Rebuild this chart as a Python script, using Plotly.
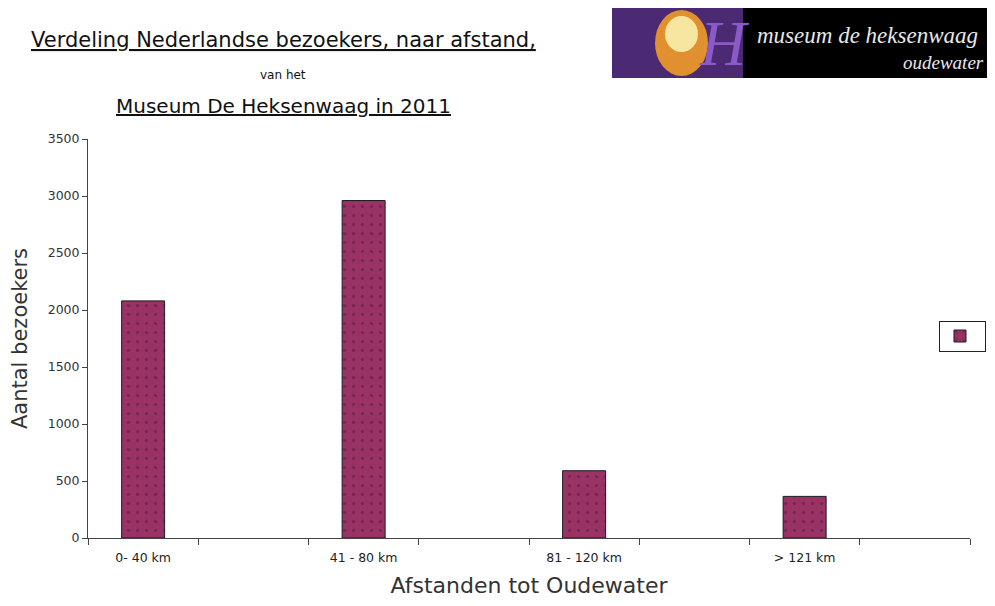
import plotly.graph_objects as go

categories = ["0- 40 km", " ", "41 - 80 km", "  ", "81 - 120 km", "   ", "> 121 km", "    "]
visitors = [2080, None, 2960, None, 590, None, 365, None]
y_ticks = [0, 500, 1000, 1500, 2000, 2500, 3000, 3500]

# page body has an 8px margin, so the figure is drawn at (8, 8) in the window
OFF = 8
W, H = 995 - 2 * OFF, 606 - 2 * OFF
L, T = 88 - OFF, 139 - OFF
R = W - (970 - OFF)
B = H - (538 - OFF)
PW, PH = W - L - R, H - T - B

def px(x):
    return (x - OFF - L) / PW

def py(y):
    return (H - B - (y - OFF)) / PH

FONT = "DejaVu Sans"

fig = go.Figure()
fig.add_trace(go.Bar(
    x=categories, y=visitors, name="",
    width=0.39,
    marker=dict(color="#993366", line=dict(color="#1a1a1a", width=1),
                pattern=dict(shape=".", fgcolor="#5a1a3a", bgcolor="#993366", size=9, solidity=0.12)),
    showlegend=True,
))

fig.update_layout(
    width=W, height=H,
    margin=dict(l=L, r=R, t=T, b=B, autoexpand=False),
    paper_bgcolor="white", plot_bgcolor="white",
    font=dict(family=FONT, color="#222"),
    showlegend=True,
    legend=dict(x=px(986), y=py(336), xanchor="right", yanchor="middle",
                bordercolor="#222", borderwidth=1, bgcolor="white",
                itemwidth=30, font=dict(size=1), tracegroupgap=0),
    xaxis=dict(type="category", categoryorder="array", categoryarray=categories,
               tickson="boundaries", ticks="outside", ticklen=6, tickcolor="#444",
               showline=True, linecolor="#444", linewidth=1, showgrid=False,
               ticklabelstandoff=8,
               tickfont=dict(size=12.5, color="#222"),
               title=dict(text="Afstanden tot Oudewater", font=dict(size=22, color="#333"), standoff=20)),
    yaxis=dict(range=[0, 3500], tickvals=y_ticks, ticks="outside", ticklen=5, tickcolor="#444",
               showline=True, linecolor="#444", linewidth=1, showgrid=False, zeroline=False,
               tickfont=dict(size=12.5, color="#333"),
               title=dict(text="Aantal bezoekers", font=dict(size=21, color="#333"), standoff=18)),
)

# Titles
fig.add_annotation(text="<u>Verdeling Nederlandse bezoekers, naar afstand,</u>", x=px(283), y=py(40),
                   xref="paper", yref="paper", xanchor="center", yanchor="middle", showarrow=False,
                   font=dict(size=21, color="#111"))
fig.add_annotation(text="van het", x=px(283), y=py(75), xref="paper", yref="paper",
                   xanchor="center", yanchor="middle", showarrow=False, font=dict(size=12, color="#111"))
fig.add_annotation(text="<u>Museum De Heksenwaag in 2011</u>", x=px(283), y=py(106),
                   xref="paper", yref="paper", xanchor="center", yanchor="middle", showarrow=False,
                   font=dict(size=20, color="#111"))

# Logo (approximation)
fig.add_shape(type="rect", xref="paper", yref="paper", x0=px(612), x1=px(745), y0=py(78), y1=py(8),
              fillcolor="#4b2a73", line=dict(width=0), layer="above")
fig.add_shape(type="circle", xref="paper", yref="paper", x0=px(655), x1=px(708), y0=py(76), y1=py(10),
              fillcolor="#e0902e", line=dict(width=0), layer="above")
fig.add_shape(type="circle", xref="paper", yref="paper", x0=px(665), x1=px(698), y0=py(52), y1=py(16),
              fillcolor="#f6e6a0", line=dict(width=0), layer="above")
fig.add_annotation(text="<i>H</i>", x=px(724), y=py(44), xref="paper", yref="paper",
                   xanchor="center", yanchor="middle", showarrow=False,
                   font=dict(size=64, color="#8a5ac8", family="Liberation Serif"))
fig.add_shape(type="rect", xref="paper", yref="paper", x0=px(743), x1=px(1000), y0=py(78), y1=py(8),
              fillcolor="black", line=dict(width=0), layer="above")
fig.add_annotation(text="<i>museum de heksenwaag</i>", x=px(980), y=py(36), xref="paper", yref="paper",
                   xanchor="right", yanchor="middle", showarrow=False,
                   font=dict(size=23, color="#e8e8e8", family="Liberation Serif"))
fig.add_annotation(text="<i>oudewater</i>", x=px(986), y=py(62), xref="paper", yref="paper",
                   xanchor="right", yanchor="middle", showarrow=False,
                   font=dict(size=19, color="#e8e8e8", family="Liberation Serif"))

fig.write_html("out.html")
